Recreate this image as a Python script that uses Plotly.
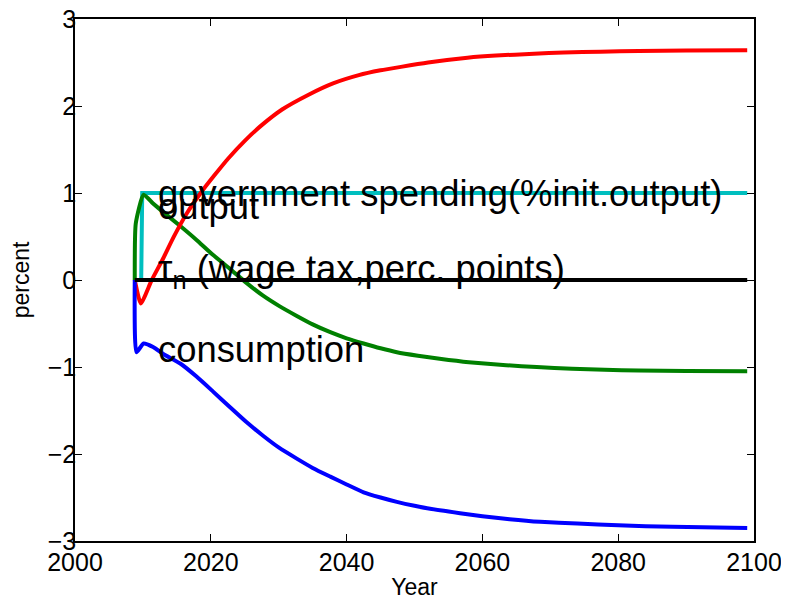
import plotly.graph_objects as go

# ---- data ----
years_gov = [2008.8, 2009.75, 2009.9, 2099]
gov_spending = [0, 0, 1, 1]

years_tau = [2008.8, 2099]
tau_n = [0, 0]

years_out = [2008.8, 2008.95, 2010.1, 2011.5, 2013.0, 2015.5, 2017.9, 2020.3,
             2022.8, 2025.2, 2027.7, 2030.1, 2032.6, 2035.0, 2037.6, 2040.0,
             2042.5, 2045.0, 2047.4, 2050.5, 2053.7, 2058.0, 2063.5, 2068.0,
             2073.2, 2078.0, 2083.0, 2090.0, 2099]
output = [0, 0.65, 0.98, 0.88, 0.78, 0.62, 0.46, 0.29,
          0.13, -0.03, -0.18, -0.30, -0.41, -0.51, -0.60, -0.67,
          -0.73, -0.785, -0.83, -0.87, -0.905, -0.945, -0.98, -1.0,
          -1.02, -1.033, -1.04, -1.047, -1.05]

years_red = [2008.8, 2009.7, 2011.3, 2013.0, 2014.5, 2016.5, 2018.7, 2020.5,
             2022.6, 2025.0, 2027.5, 2030.5, 2034.4, 2038.0, 2041.8, 2045.0,
             2048.0, 2052.0, 2057.8, 2062.0, 2067.6, 2072.0, 2077.4, 2083.0,
             2090.0, 2099]
red_series = [0, -0.27, 0.0, 0.25, 0.49, 0.77, 1.02, 1.20,
              1.40, 1.60, 1.78, 1.96, 2.13, 2.26, 2.355, 2.41,
              2.45, 2.50, 2.555, 2.58, 2.60, 2.615, 2.624, 2.632,
              2.637, 2.64]

years_cons = [2008.8, 2009.05, 2010.1, 2011.5, 2013.0, 2015.5, 2017.9, 2020.3,
              2022.8, 2025.2, 2027.7, 2030.1, 2032.6, 2035.0, 2037.6, 2040.0,
              2042.5, 2045.0, 2047.4, 2050.0, 2052.3, 2056.7, 2060.0, 2064.0,
              2068.5, 2074.0, 2080.0, 2088.0, 2099]
consumption = [0, -0.83, -0.73, -0.77, -0.85, -0.96, -1.11, -1.28,
               -1.46, -1.63, -1.79, -1.93, -2.05, -2.16, -2.26, -2.35,
               -2.44, -2.50, -2.55, -2.595, -2.63, -2.68, -2.715, -2.75,
               -2.78, -2.80, -2.82, -2.837, -2.85]

x_ticks = [2000, 2020, 2040, 2060, 2080, 2100]
y_ticks = [-3, -2, -1, 0, 1, 2, 3]

labels = ["government spending(%init.output)", "output",
          "τ<sub>n</sub> (wage tax,perc. points)", "consumption"]
label_x = [2012, 2012, 2012, 2012]
label_y = [1.0, 0.85, 0.10, -0.8]

FONT = "Liberation Sans, Arial, Helvetica, sans-serif"
LW = 4
SMOOTH = dict(shape="spline", smoothing=0.5)

fig = go.Figure()
fig.add_trace(go.Scatter(x=years_gov, y=gov_spending, mode="lines",
                         line=dict(color="#00BFBF", width=LW)))
fig.add_trace(go.Scatter(x=years_out, y=output, mode="lines",
                         line=dict(color="#008000", width=LW, **SMOOTH)))
fig.add_trace(go.Scatter(x=years_red, y=red_series, mode="lines",
                         line=dict(color="#FF0000", width=LW, **SMOOTH)))
fig.add_trace(go.Scatter(x=years_cons, y=consumption, mode="lines",
                         line=dict(color="#0000FF", width=LW, **SMOOTH)))
fig.add_trace(go.Scatter(x=years_tau, y=tau_n, mode="lines",
                         line=dict(color="#000000", width=LW)))

for t, xx, yy in zip(labels, label_x, label_y):
    fig.add_annotation(x=xx, y=yy, text=t, showarrow=False, xanchor="left",
                       yanchor="middle", font=dict(family=FONT, size=36.4, color="black"))

axis_common = dict(showgrid=False, zeroline=False, showline=True, linecolor="black",
                   linewidth=1.5, mirror="allticks", ticks="inside", ticklen=7,
                   tickcolor="black", tickwidth=1, automargin=False,
                   ticklabeloverflow="allow",
                   tickfont=dict(family=FONT, size=25, color="black"))

fig.update_xaxes(range=[2000, 2100], tickvals=x_ticks, ticklabelstandoff=-2,
                 title=dict(text="Year", font=dict(family=FONT, size=23, color="black"), standoff=10),
                 **axis_common)
fig.update_yaxes(range=[-3, 3], tickvals=y_ticks, ticklabelstandoff=-8,
                 title=dict(text="percent", font=dict(family=FONT, size=23, color="black"), standoff=24),
                 **axis_common)

# the page adds an 8px body margin, so the figure is sized to fit the window
fig.update_layout(width=781, height=592, showlegend=False,
                  margin=dict(l=67, r=35, t=11, b=59),
                  plot_bgcolor="white", paper_bgcolor="white")

fig.write_html("out.html")
